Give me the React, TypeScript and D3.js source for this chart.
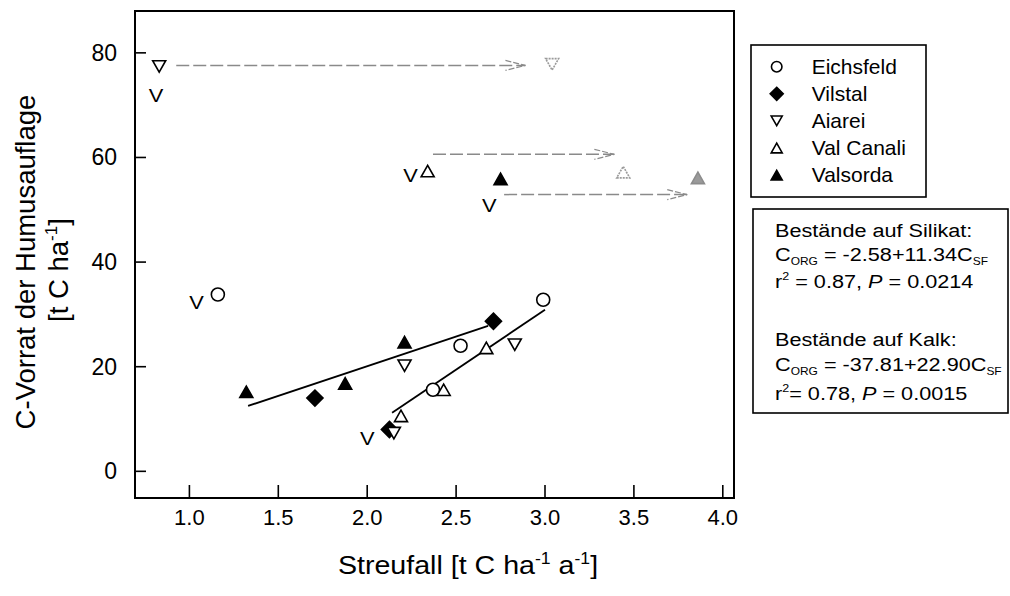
import React from 'react';
import * as d3 from 'd3';

const W = 1010;
const H = 596;
const plot = { left: 135, right: 734, top: 11, bottom: 498 };

const xDomain = [0.694, 4.063];
const yDomain = [-5.1, 88];
const xTicks = [1.0, 1.5, 2.0, 2.5, 3.0, 3.5, 4.0];
const yTicks = [0, 20, 40, 60, 80];

// [Streufall, C-Vorrat]
const eichsfeld = [[1.16, 33.8], [2.37, 15.6], [2.525, 24.0], [2.99, 32.8]];
const vilstal = [[1.706, 14.0], [2.71, 28.7], [2.125, 8.0]];
const aiarei = [[0.83, 77.4], [2.21, 20.2], [2.83, 24.2], [2.15, 7.3]];
const valCanali = [[2.34, 57.4], [2.67, 23.6], [2.43, 15.6], [2.19, 10.6]];
const valsorda = [[1.32, 15.2], [1.876, 16.8], [2.21, 24.7], [2.75, 55.9]];

// shifted (grey) points at the arrow heads
const aiareiShift = [[3.04, 77.8]];
const valCanaliShift = [[3.44, 57.2]];
const valsordaShift = [[3.86, 56.1]];

// arrows: [y, xStart, xEnd]
const arrows = [[77.6, 0.926, 2.89], [60.6, 2.37, 3.39], [52.9, 2.77, 3.80]];

// "V" labels: [x, y]
const vLabels = [[0.813, 72.0], [1.04, 32.3], [2.244, 56.7], [2.686, 51.0], [2.0, 6.4]];

// regressions: [intercept, slope, xFrom, xTo]
const regSilikat = [-2.58, 11.34, 1.33, 2.68];
const regKalk = [-37.81, 22.9, 2.14, 3.0];

const legendNames = ['Eichsfeld', 'Vilstal', 'Aiarei', 'Val Canali', 'Valsorda'];
const legendShapes = ['circle', 'diamond', 'down', 'up', 'upFilled'];

const FONT = '"Liberation Sans", Arial, Helvetica, sans-serif';

function shapePath(kind: string, s: number): string {
  const w = s;
  const h = s * 0.88;
  if (kind === 'diamond') {
    const d = s * 0.62;
    return `M0,${-d}L${d},0L0,${d}L${-d},0Z`;
  }
  if (kind === 'down') {
    return `M${-w / 2},${-h / 2}L${w / 2},${-h / 2}L0,${h / 2}Z`;
  }
  return `M${-w / 2},${h / 2}L${w / 2},${h / 2}L0,${-h / 2}Z`;
}

function Marker({ kind, x, y, s, stroke = '#000', fill, dash }: any) {
  if (kind === 'circle') {
    return <circle cx={x} cy={y} r={s / 2} fill="#fff" stroke={stroke} strokeWidth={1.6} />;
  }
  const filled = kind === 'diamond' || kind === 'upFilled';
  const k = kind === 'upFilled' ? 'up' : kind;
  return (
    <path
      d={shapePath(k, s)}
      transform={`translate(${x},${y})`}
      fill={fill ?? (filled ? stroke : '#fff')}
      stroke={stroke}
      strokeWidth={1.6}
      strokeDasharray={dash}
      strokeLinejoin="miter"
    />
  );
}

export default function App() {
  const x = d3.scaleLinear().domain(xDomain).range([plot.left, plot.right]);
  const y = d3.scaleLinear().domain(yDomain).range([plot.bottom, plot.top]);

  const regLine = (r: number[]) => {
    const xs = [r[2], r[3]];
    return d3
      .line<number>()
      .x((v) => x(v))
      .y((v) => y(r[0] + r[1] * v))(xs) as string;
  };

  const series = [
    { data: eichsfeld, kind: 'circle' },
    { data: vilstal, kind: 'diamond' },
    { data: aiarei, kind: 'down' },
    { data: valCanali, kind: 'up' },
    { data: valsorda, kind: 'upFilled' },
  ];

  const sizes: any = { circle: 13, diamond: 13, down: 13, up: 13, upFilled: 13 };
  const ls: any = { circle: 10.5, diamond: 10.5, down: 11, up: 11, upFilled: 11 };

  return (
    <svg width={W} height={H} style={{ display: 'block', position: 'absolute', left: 0, top: 0, background: '#fff' }} fontFamily={FONT}>
      <rect x={0} y={0} width={W} height={H} fill="#fff" />

      {/* arrows */}
      {arrows.map((a, i) => {
        const yy = y(a[0]);
        const x1 = x(a[1]);
        const x2 = x(a[2]);
        return (
          <g key={'ar' + i} stroke="#8a8a8a" strokeWidth={1.5} fill="none">
            <line x1={x1} y1={yy} x2={x2} y2={yy} strokeDasharray="13 4" />
            <path d={`M${x2 - 20},${yy - 5}L${x2},${yy}L${x2 - 20},${yy + 5}`} strokeDasharray="6 2" strokeWidth={1.2} />
          </g>
        );
      })}

      {/* regression lines */}
      <path d={regLine(regSilikat)} stroke="#000" strokeWidth={1.8} fill="none" />
      <path d={regLine(regKalk)} stroke="#000" strokeWidth={1.8} fill="none" />

      {/* shifted grey points */}
      {aiareiShift.map((p, i) => (
        <Marker key={'as' + i} kind="down" x={x(p[0])} y={y(p[1])} s={13} stroke="#9a9a9a" dash="2 1" />
      ))}
      {valCanaliShift.map((p, i) => (
        <Marker key={'vs' + i} kind="up" x={x(p[0])} y={y(p[1])} s={13} stroke="#9a9a9a" dash="2 1" />
      ))}
      {valsordaShift.map((p, i) => (
        <Marker key={'vso' + i} kind="up" x={x(p[0])} y={y(p[1])} s={13} stroke="#8c8c8c" fill="#9a9a9a" />
      ))}

      {/* data points */}
      {series.map((s, si) =>
        s.data.map((p, i) => (
          <Marker key={si + '-' + i} kind={s.kind} x={x(p[0])} y={y(p[1])} s={sizes[s.kind]} />
        ))
      )}

      {/* V labels */}
      {vLabels.map((p, i) => (
        <g key={'v' + i} transform={`translate(${x(p[0])},${y(p[1])}) scale(1.15,1)`}>
          <text x={0} y={7} textAnchor="middle" fontSize={19} fill="#000">V</text>
        </g>
      ))}

      {/* frame */}
      <rect x={plot.left} y={plot.top} width={plot.right - plot.left} height={plot.bottom - plot.top} fill="none" stroke="#000" strokeWidth={2} />

      {/* x ticks */}
      {xTicks.map((t) => (
        <g key={'xt' + t}>
          <line x1={x(t)} x2={x(t)} y1={plot.bottom} y2={plot.bottom - 13} stroke="#000" strokeWidth={1.6} />
          <text x={x(t)} y={525} textAnchor="middle" fontSize={22} fill="#000">{t.toFixed(1)}</text>
        </g>
      ))}

      {/* y ticks */}
      {yTicks.map((t) => (
        <g key={'yt' + t}>
          <line x1={plot.left} x2={plot.left + 11} y1={y(t)} y2={y(t)} stroke="#000" strokeWidth={1.6} />
          <text x={117} y={y(t) + 8} textAnchor="end" fontSize={23} fill="#000">{t}</text>
        </g>
      ))}

      {/* axis titles */}
      <g transform="translate(468,574) scale(1.1,1)">
        <text x={0} y={0} textAnchor="middle" fontSize={26} fill="#000">
          Streufall [t C ha<tspan dy={-10} fontSize={16}>-1</tspan><tspan dy={10}> a</tspan><tspan dy={-10} fontSize={16}>-1</tspan><tspan dy={10}>]</tspan>
        </text>
      </g>
      <g transform="translate(35,262) rotate(-90)">
        <text x={0} y={0} textAnchor="middle" fontSize={27.5} fill="#000">C-Vorrat der Humusauflage</text>
      </g>
      <g transform="translate(68,270) rotate(-90)">
        <text x={0} y={0} textAnchor="middle" fontSize={27.5} fill="#000">
          [t C ha<tspan dy={-11} fontSize={17}>-1</tspan><tspan dy={11}>]</tspan>
        </text>
      </g>

      {/* legend */}
      <rect x={751} y={45} width={175} height={152} fill="#fff" stroke="#000" strokeWidth={1.6} />
      {legendNames.map((n, i) => {
        const yy = 66.7 + i * 27.1;
        return (
          <g key={'lg' + i}>
            <Marker kind={legendShapes[i]} x={776.7} y={yy} s={ls[legendShapes[i]]} />
            <g transform={`translate(811.7,${yy + 7}) scale(1.05,1)`}>
              <text x={0} y={0} fontSize={20} fill="#000">{n}</text>
            </g>
          </g>
        );
      })}

      {/* regression text box */}
      <rect x={753} y={209} width={255} height={204} fill="#fff" stroke="#000" strokeWidth={1.6} />
      <g transform="translate(775,236.5) scale(1.14,1)">
        <text x={0} y={0} fontSize={19}>Bestände auf Silikat:</text>
        <text x={0} y={25} fontSize={19}>
          C<tspan dy={4} fontSize={10.5}>ORG</tspan><tspan dy={-4}> = -2.58+11.34C</tspan><tspan dy={4} fontSize={10.5}>SF</tspan>
        </text>
        <text x={0} y={51.5} fontSize={19}>
          r<tspan dy={-8} fontSize={11}>2</tspan><tspan dy={8}> = 0.87, </tspan><tspan fontStyle="italic">P</tspan> = 0.0214
        </text>
        <text x={0} y={110} fontSize={19}>Bestände auf Kalk:</text>
        <text x={0} y={135} fontSize={19}>
          C<tspan dy={4} fontSize={10.5}>ORG</tspan><tspan dy={-4}> = -37.81+22.90C</tspan><tspan dy={4} fontSize={10.5}>SF</tspan>
        </text>
        <text x={0} y={163.5} fontSize={19}>
          r<tspan dy={-8} fontSize={11}>2</tspan><tspan dy={8}>= 0.78, </tspan><tspan fontStyle="italic">P</tspan> = 0.0015
        </text>
      </g>
    </svg>
  );
}
